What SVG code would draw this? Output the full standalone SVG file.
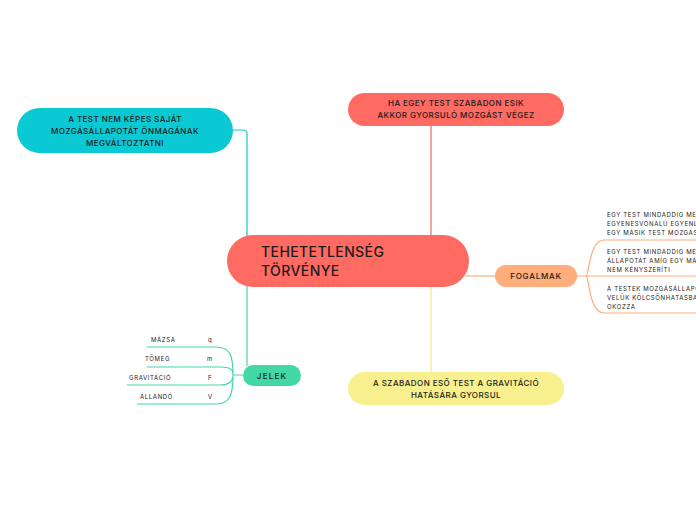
<svg xmlns="http://www.w3.org/2000/svg" width="696" height="520" viewBox="0 0 696 520">
<style>
text{font-family:Inter,"Liberation Sans","DejaVu Sans",sans-serif;fill:#1c1c1c;font-weight:500}
.n8{font-size:8px;letter-spacing:0.45px;text-anchor:middle}
.s6{font-size:6px;letter-spacing:0.65px;font-weight:400}
.c{fill:none;stroke-width:1.2}
</style>
<rect width="696" height="520" fill="#ffffff"/>
<g id="connectors">
<path class="c" stroke="#0BC9D3" d="M233,130 H243 Q247,130 247,134 V240"/>
<path class="c" stroke="#E8665F" d="M431,126 V240"/>
<path class="c" stroke="#F3E98C" d="M431,285 V372"/>
<path class="c" stroke="#43D7A5" d="M247,285 V366"/>
<path class="c" stroke="#FFAD7A" d="M465,276 H495"/>
<path class="c" stroke="#FFAD7A" d="M577,276 H696 M586,276 C589,276 589,240 604,240 H696 M586,276 C589,276 589,313 604,313 H696"/>
<path class="c" stroke="#43D7A5" d="M243,375 H233 M233,375 C233,355 230,347 216,347 H147 M233,375 C233,369 230,367 220,367 H147 M233,375 C233,381 230,385 220,385 H127 M233,375 C233,395 230,404 216,404 H137"/>
</g>
<g id="central">
<rect x="227" y="235" width="242" height="52" rx="26" fill="#FF6A63"/>
<text x="261" y="257" style="font-size:14px;letter-spacing:0.4px">TEHETETLENSÉG</text>
<text x="261" y="275.5" style="font-size:14px;letter-spacing:0.4px">TÖRVÉNYE</text>
</g>
<g id="node-test-nem">
<rect x="17" y="108" width="216" height="45" rx="22.5" fill="#0BC9D3"/>
<text class="n8" x="125" y="121.5">A TEST NEM KÉPES SAJÁT</text>
<text class="n8" x="125" y="133.5">MOZGÁSÁLLAPOTÁT ÖNMAGÁNAK</text>
<text class="n8" x="125" y="145.5">MEGVÁLTOZTATNI</text>
</g>
<g id="node-szabadon-esik">
<rect x="348" y="93" width="216" height="33" rx="16.5" fill="#FF6A63"/>
<text class="n8" x="456" y="106">HA EGEY TEST SZABADON ESIK</text>
<text class="n8" x="456" y="118">AKKOR GYORSULÓ MOZGÁST VÉGEZ</text>
</g>
<g id="node-gravitacio">
<rect x="348" y="372" width="216" height="33" rx="16.5" fill="#F8F08E"/>
<text class="n8" x="456" y="385.5">A SZABADON ESŐ TEST A GRAVITÁCIÓ</text>
<text class="n8" x="456" y="397.5">HATÁSÁRA GYORSUL</text>
</g>
<g id="node-fogalmak">
<rect x="495" y="265" width="82" height="22" rx="11" fill="#FFAD7A"/>
<text class="n8" x="536" y="279" style="letter-spacing:0.8px">FOGALMAK</text>
</g>
<g id="node-jelek">
<rect x="243" y="365" width="58" height="21" rx="10.5" fill="#43D7A5"/>
<text class="n8" x="272" y="378.5" style="letter-spacing:1.2px">JELEK</text>
</g>
<g id="fogalmak-1">
<text class="s6" x="607" y="217">EGY TEST MINDADDIG MEGMARAD</text>
<text class="s6" x="607" y="226">EGYENESVONALÚ EGYENLETES</text>
<text class="s6" x="607" y="235">EGY MÁSIK TEST MOZGÁSÁLLAPOTA</text>
</g>
<g id="fogalmak-2">
<text class="s6" x="607" y="254">EGY TEST MINDADDIG MEGMARAD</text>
<text class="s6" x="607" y="263">ÁLLAPOTÁT AMÍG EGY MÁSIK</text>
<text class="s6" x="607" y="272">NEM KÉNYSZERÍTI</text>
</g>
<g id="fogalmak-3">
<text class="s6" x="607" y="291">A TESTEK MOZGÁSÁLLAPOTÁT</text>
<text class="s6" x="607" y="300">VELÜK KÖLCSÖNHATÁSBAN</text>
<text class="s6" x="607" y="309">OKOZZA</text>
</g>
<g id="jelek-mazsa"><text class="s6" x="151" y="342">MÁZSA</text><text class="s6" x="208" y="342">q</text></g>
<g id="jelek-tomeg"><text class="s6" x="145" y="361">TÖMEG</text><text class="s6" x="207" y="361">m</text></g>
<g id="jelek-gravitacio"><text class="s6" x="129" y="380">GRAVITÁCIÓ</text><text class="s6" x="208" y="380">F</text></g>
<g id="jelek-allando"><text class="s6" x="140" y="399">ÁLLANDÓ</text><text class="s6" x="208" y="399">V</text></g>
</svg>
